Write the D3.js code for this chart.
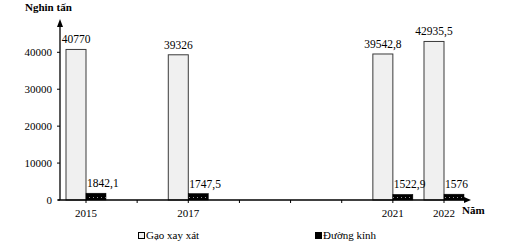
<html>
<head>
<meta charset="utf-8">
<style>
  body { margin: 0; background: #fff; }
</style>
</head>
<body>
<div id="chart"></div>
<script src="https://cdn.jsdelivr.net/npm/d3@7"></script>
<script>
// data
var years = [2015, 2017, 2021, 2022];
var gao = [40770, 39326, 39542.8, 42935.5];     // Gạo xay xát
var duong = [1842.1, 1747.5, 1522.9, 1576];      // Đường kính
var gaoLabels = ["40770", "39326", "39542,8", "42935,5"];
var duongLabels = ["1842,1", "1747,5", "1522,9", "1576"];
var yTicks = [0, 10000, 20000, 30000, 40000];
var allYears = [2015, 2016, 2017, 2018, 2019, 2020, 2021, 2022];

var width = 531, height = 250;
var barW = 20;
var serif = "'Liberation Serif', 'Times New Roman', Times, serif";

var svg = d3.select("#chart").append("svg")
  .attr("width", width)
  .attr("height", height)
  .attr("font-family", serif)
  .style("font-family", serif);

// dotted fill for the sugar bars
var defs = svg.append("defs");
var pat = defs.append("pattern")
  .attr("id", "dots")
  .attr("patternUnits", "userSpaceOnUse")
  .attr("width", 4).attr("height", 5);
pat.append("rect").attr("width", 4).attr("height", 5).attr("fill", "#000");
pat.append("rect").attr("x", 1).attr("y", 2).attr("width", 1).attr("height", 1).attr("fill", "#999");

var x = d3.scaleLinear().domain([2015, 2022]).range([86, 444]);
var y = d3.scaleLinear().domain([0, 40000]).range([200, 52.3]);

var axisX0 = 60, axisXEnd = 468;

// bars: rice left of the tick, sugar right of it
svg.selectAll(".gao")
  .data(years)
  .enter().append("rect")
  .attr("class", "gao")
  .attr("x", function(d) { return x(d) - barW; })
  .attr("y", function(d, i) { return y(gao[i]); })
  .attr("width", barW)
  .attr("height", function(d, i) { return y(0) - y(gao[i]); })
  .style("fill", "#f0f0f0")
  .style("stroke", "#3a3a3a")
  .style("stroke-width", 1);

svg.selectAll(".duong")
  .data(years)
  .enter().append("rect")
  .attr("class", "duong")
  .attr("x", function(d) { return x(d); })
  .attr("y", function(d, i) { return y(duong[i]); })
  .attr("width", barW)
  .attr("height", function(d, i) { return y(0) - y(duong[i]); })
  .style("fill", "url(#dots)")
  .style("stroke", "#000")
  .style("stroke-width", 0.5);

// value labels
svg.selectAll(".gaoLbl")
  .data(years)
  .enter().append("text")
  .attr("x", function(d) { return x(d) - barW / 2; })
  .attr("y", function(d, i) { return y(gao[i]) - 6; })
  .attr("text-anchor", "middle")
  .style("font-size", "11.5px")
  .text(function(d, i) { return gaoLabels[i]; });

svg.selectAll(".duongLbl")
  .data(years)
  .enter().append("text")
  .attr("x", function(d) { return x(d) + 1; })
  .attr("y", function(d, i) { return y(duong[i]) - 6; })
  .attr("text-anchor", "start")
  .style("font-size", "11.5px")
  .text(function(d, i) { return duongLabels[i]; });

// y axis
var yAxis = svg.append("g").attr("transform", "translate(" + axisX0 + ",0)");
yAxis.append("line")
  .attr("x1", 0).attr("x2", 0)
  .attr("y1", y(0)).attr("y2", 26)
  .style("stroke", "#000").style("stroke-width", 1.3);
yAxis.append("path")
  .attr("d", "M0,19 L-3,27 L3,27 Z")
  .style("fill", "#000");
yAxis.selectAll(".yt")
  .data(yTicks)
  .enter().append("line")
  .attr("x1", -3).attr("x2", 0)
  .attr("y1", function(d) { return y(d); })
  .attr("y2", function(d) { return y(d); })
  .style("stroke", "#000");
yAxis.selectAll(".yl")
  .data(yTicks)
  .enter().append("text")
  .attr("x", -8)
  .attr("y", function(d) { return y(d) + 4; })
  .attr("text-anchor", "end")
  .style("font-size", "11px")
  .text(function(d) { return d; });

// x axis
var xAxis = svg.append("g");
xAxis.append("line")
  .attr("x1", axisX0 - 2).attr("x2", axisXEnd - 3)
  .attr("y1", y(0)).attr("y2", y(0))
  .style("stroke", "#000").style("stroke-width", 1.3);
xAxis.append("path")
  .attr("d", "M" + (axisXEnd + 3) + "," + y(0) + " l-7,-3 l0,6 Z")
  .style("fill", "#000");
xAxis.selectAll(".xt")
  .data(allYears)
  .enter().append("line")
  .attr("x1", function(d) { return x(d); })
  .attr("x2", function(d) { return x(d); })
  .attr("y1", y(0)).attr("y2", y(0) + 3)
  .style("stroke", "#000");
xAxis.selectAll(".xl")
  .data(years)
  .enter().append("text")
  .attr("x", function(d) { return x(d); })
  .attr("y", 217)
  .attr("text-anchor", "middle")
  .style("font-size", "11px")
  .text(function(d) { return d; });

// axis titles
svg.append("text")
  .attr("x", 25).attr("y", 11)
  .style("font-size", "11px")
  .style("font-weight", "bold")
  .text("Nghin tấn");
svg.append("text")
  .attr("x", 462).attr("y", 214)
  .style("font-size", "11px")
  .style("font-weight", "bold")
  .text("Năm");

// legend
var legend = [
  { name: "Gạo xay xát", x: 138, fill: "#f0f0f0" },
  { name: "Đường kính", x: 315, fill: "#000" }
];
var lg = svg.selectAll(".lg")
  .data(legend)
  .enter().append("g")
  .attr("transform", function(d) { return "translate(" + d.x + ",232)"; });
lg.append("rect")
  .attr("x", 0.5).attr("y", 0.5)
  .attr("width", 6).attr("height", 6)
  .style("fill", function(d) { return d.fill; })
  .style("stroke", "#000");
lg.append("text")
  .attr("x", 8).attr("y", 7)
  .style("font-size", "11px")
  .text(function(d) { return d.name; });
</script>
</body>
</html>
